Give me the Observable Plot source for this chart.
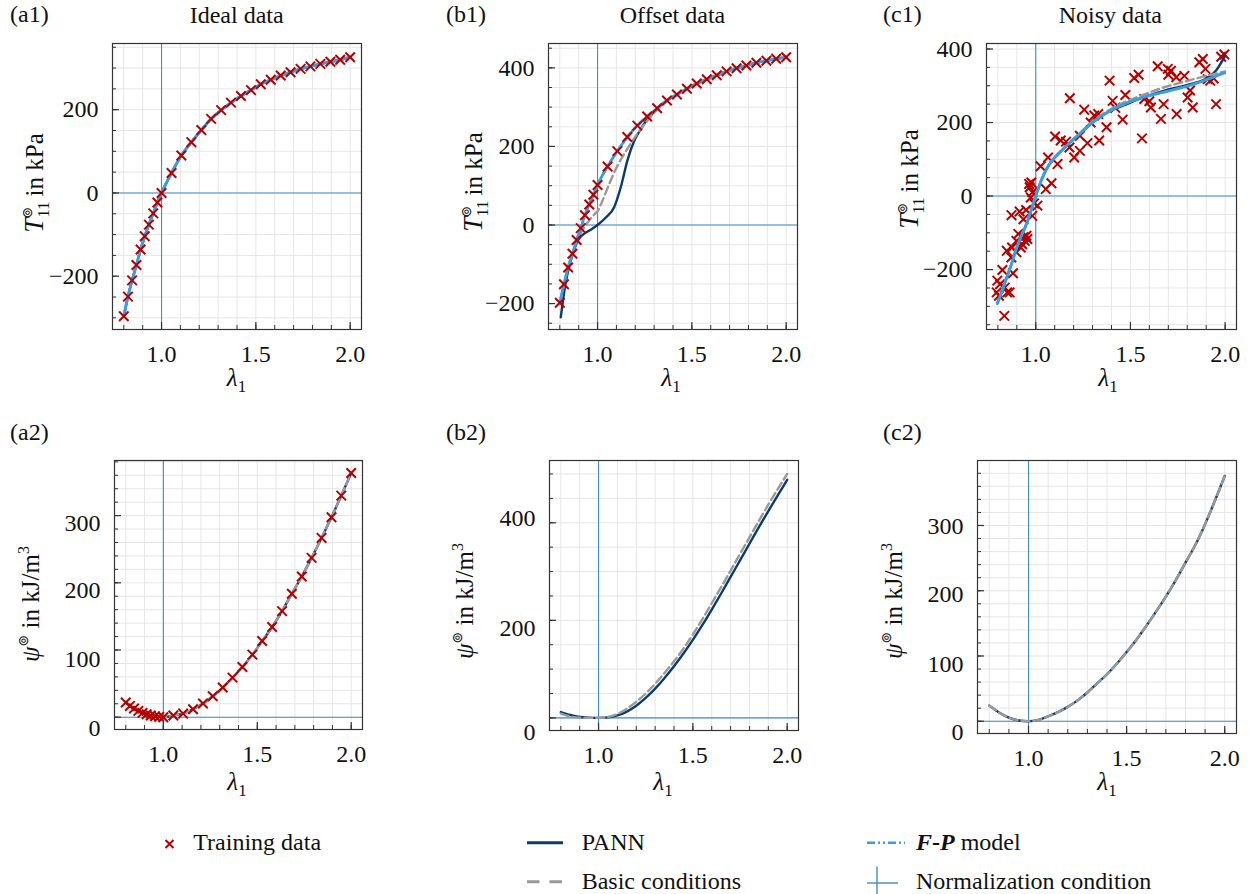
<!DOCTYPE html>
<html><head><meta charset="utf-8">
<script src="https://cdn.jsdelivr.net/npm/d3@7"></script>
<script src="https://cdn.jsdelivr.net/npm/@observablehq/plot@0.6"></script>
<style>
html,body{margin:0;padding:0;background:#fff;}
#root{position:relative;width:1253px;height:894px;overflow:hidden;font-family:'Liberation Serif', serif;}
</style></head><body><div id="root"></div>
<script>
// ---------------- data ----------------
const xMajor = [1.0, 1.5, 2.0];
const xMinor = [0.8, 0.9, 1.0, 1.1, 1.2, 1.3, 1.4, 1.5, 1.6, 1.7, 1.8, 1.9, 2.0];
const normX = [1.0];
const normY = [0];

// training stretches (ideal / offset data)
const lamTrain = [0.8, 0.822, 0.844, 0.867, 0.889, 0.911, 0.933, 0.956, 0.978, 1.0, 1.053, 1.105, 1.158, 1.211, 1.263, 1.316, 1.368, 1.421, 1.474, 1.526, 1.579, 1.632, 1.684, 1.737, 1.789, 1.842, 1.895, 1.947, 2.0];
// (a1) ideal stress data
const tIdeal = [-296, -249, -210, -173, -136, -104, -76, -49, -23, 0, 48, 90, 122, 151, 178, 199, 217, 233, 247, 261, 272, 282, 290, 298, 304, 310, 315, 320, 326];
// (b1) offset stress data
const tOffset = [-198, -151, -108, -73, -38, -8, 25, 52, 77, 102, 149, 188, 224, 253, 276, 297, 317, 332, 347, 360, 371, 381, 391, 399, 406, 413, 418, 423, 427];
// (a2) ideal energy data
const psiIdeal = [21.8, 16.8, 12.9, 9.4, 6.4, 4.5, 2.5, 1.5, 0.5, 0, 2.5, 5.4, 11.9, 20.3, 31.2, 44.1, 58.9, 74.8, 93.1, 113.4, 134.2, 157.9, 183.7, 209.4, 237.1, 266.8, 297.5, 329.7, 363.4];

// (b1) model curves
const lamB1Pann = [0.805, 0.83, 0.85, 0.87, 0.89, 0.91, 0.93, 0.95, 0.97, 1.0, 1.044, 1.088, 1.123, 1.158, 1.194, 1.229, 1.264, 1.30, 1.368, 1.421, 1.474, 1.526, 1.579, 1.632, 1.684, 1.737, 1.789, 1.842, 1.895, 1.947, 2.0];
const tB1Pann = [-235, -150, -105, -72, -45, -30, -22, -16, -10, 0, 19, 45, 96, 164, 214, 244, 269, 288, 317, 332, 347, 360, 371, 381, 391, 399, 406, 413, 418, 423, 427];
const lamB1Basic = [0.8, 0.822, 0.844, 0.867, 0.889, 0.91, 0.93, 0.95, 0.97, 0.985, 1.0, 1.02, 1.05, 1.08, 1.11, 1.14, 1.17, 1.21, 1.25, 1.29, 1.32, 1.368, 1.421, 1.474, 1.526, 1.579, 1.632, 1.684, 1.737, 1.789, 1.842, 1.895, 1.947, 2.0];
const tB1Basic = [-200, -151, -108, -73, -42, -22, -5, 8, 20, 28, 35, 55, 90, 125, 155, 180, 203, 232, 257, 280, 296, 317, 332, 347, 360, 371, 381, 391, 399, 406, 413, 418, 423, 427];

// (c1) noisy stress data
const lamNoisy = [0.834, 0.797, 0.806, 0.794, 0.824, 0.836, 0.849, 0.862, 0.880, 0.812, 0.847, 0.871, 0.875, 0.898, 0.898, 0.908, 0.921, 0.929, 0.942, 0.951, 0.956, 0.935, 0.872, 0.915, 0.949, 0.935, 0.982, 0.968, 0.977, 0.982, 0.991, 1.009, 0.974, 0.965, 1.026, 1.053, 1.083, 1.065, 1.102, 1.115, 1.132, 1.180, 1.178, 1.203, 1.233, 1.233, 1.256, 1.273, 1.309, 1.330, 1.335, 1.374, 1.390, 1.406, 1.459, 1.473, 1.520, 1.543, 1.561, 1.573, 1.600, 1.608, 1.644, 1.661, 1.675, 1.697, 1.714, 1.742, 1.744, 1.785, 1.802, 1.815, 1.829, 1.864, 1.882, 1.908, 1.921, 1.952, 1.979, 1.996, 1.896, 1.160, 1.290, 1.420, 1.940, 1.700];
const tNoisy = [-326, -230, -271, -262, -201, -249, -262, -262, -210, -240, -149, -167, -140, -153, -122, -103, -140, -131, -122, -108, -117, -112, -52, -42, -38, -63, -54, 24, 37, 10, -20, -26, -4, 33, 81, 19, 35, 105, 162, 87, 151, 266, 132, 105, 123, 164, 235, 144, 219, 223, 151, 187, 314, 259, 208, 275, 321, 330, 157, 264, 258, 241, 353, 210, 250, 346, 341, 323, 223, 327, 268, 287, 241, 364, 373, 318, 314, 250, 379, 385, 346, 148, 200, 240, 320, 330];

// (c1) model curves
const lamC1 = [0.797, 0.82, 0.841, 0.87, 0.894, 0.92, 0.947, 0.975, 1.0, 1.02, 1.044, 1.07, 1.106, 1.141, 1.18, 1.238, 1.3, 1.38, 1.467, 1.55, 1.679, 1.82, 1.908, 1.95, 2.0];
const tC1FP = [-292, -262, -230, -188, -149, -113, -81, -40, 0, 30, 60, 85, 108, 126, 145, 172, 200, 228, 250, 266, 283, 302, 318, 326, 336];
const tC1Pann = [-292, -262, -230, -188, -149, -113, -81, -40, 0, 30, 60, 85, 108, 126, 145, 172, 200, 228, 247, 265, 287, 305, 322, 340, 382];
const tC1Basic = [-292, -262, -230, -188, -149, -113, -81, -40, 0, 30, 60, 85, 108, 126, 146, 174, 203, 232, 255, 272, 296, 316, 328, 333, 339];

// (b2), (c2) energy curves
const lamPsi = [0.8, 0.85, 0.9, 0.95, 1.0, 1.05, 1.1, 1.15, 1.2, 1.25, 1.3, 1.35, 1.4, 1.45, 1.5, 1.55, 1.6, 1.65, 1.7, 1.75, 1.8, 1.85, 1.9, 1.95, 2.0];
const psiB2Pann = [12, 6, 2, 0.5, 0, 1, 5, 13, 25, 41, 60, 82, 106, 132, 160, 190, 222, 255, 289, 323, 357, 391, 424, 456, 488];
const psiB2Basic = [9, 3, 0.5, 0, 0, 2, 8, 19, 33, 50, 70, 92, 116, 142, 171, 202, 235, 268, 302, 336, 370, 404, 437, 469, 500];
const psiC2Pann = [24, 13.5, 5.5, 1.2, 0, 2, 7.5, 14, 22, 32, 44, 58, 72, 88, 106, 125, 146, 168, 191, 216, 243, 270, 302, 338, 376];
const psiC2Basic = [24, 13.5, 5.5, 1.2, 0, 2, 7.5, 14, 22, 32, 44, 58, 72, 88, 106, 125, 146, 168, 191, 216, 243, 270, 302, 338, 376];

// ---------------- styles ----------------
const NAVY = "#0b3a6f", GRAY = "#9a9a9a", LBLUE = "#3a9fe0", NORM = "#3f8ad0", RED = "#b50000";
const FONT = "'Liberation Serif', serif";
const fmtY = d3.format("d");
const fmtX = d3.format(".1f");
const zip = (xs, ys) => xs.map((x, i) => [x, ys[i]]);
const range = (a, b, s) => { const out = []; for (let v = a; v <= b + 1e-9; v += s) out.push(+v.toFixed(6)); return out; };

const root = document.getElementById("root");

function panel({L, R, T, B, yDomain, yMajor, yMinorStep, shifts, marks}) {
  const mL = 80, mR = 12, mT = 12, mB = 50;
  const l = Math.round(L), r = Math.round(R), t0 = Math.round(T), b = Math.round(B);
  const W = r - l, H = b - t0;
  const yMinor = range(Math.ceil(yDomain[0] / yMinorStep) * yMinorStep, yDomain[1], yMinorStep).map(v => v + 0);
  const svg = Plot.plot({
    width: W + mL + mR, height: H + mT + mB,
    marginLeft: mL, marginRight: mR, marginTop: mT, marginBottom: mB,
    x: {domain: [0.74, 2.06], axis: null},
    y: {domain: yDomain, axis: null},
    style: {fontFamily: FONT, fontSize: "24px", color: "#111", background: "transparent", overflow: "visible"},
    marks: [
      Plot.gridX(xMinor, {stroke: "#e6e6e6", strokeOpacity: 1, strokeWidth: 1}),
      Plot.gridY(yMinor, {stroke: "#e6e6e6", strokeOpacity: 1, strokeWidth: 1}),
      Plot.ruleX(normX, {stroke: NORM, strokeWidth: 1.1}),
      Plot.ruleY(normY, {stroke: NORM, strokeWidth: 1.1}),
      ...marks,
      Plot.ruleX(xMinor, {insetTop: H - 4, stroke: "#333", strokeWidth: 1}),
      Plot.ruleX(xMajor, {insetTop: H - 7, stroke: "#333", strokeWidth: 1.2}),
      Plot.ruleY(yMinor, {insetRight: W - 4, stroke: "#333", strokeWidth: 1}),
      Plot.ruleY(yMajor, {insetRight: W - 7, stroke: "#333", strokeWidth: 1.2}),
      Plot.frame({stroke: "#333", strokeWidth: 1.2}),
      Plot.axisX(xMajor, {tickSize: 0, tickPadding: 15, fontSize: 24, fontFamily: "Liberation Serif", label: null, tickFormat: fmtX}),
      ...yMajor.map(t => Plot.axisY([t], {tickSize: 0, tickPadding: 14, fontSize: 24, fontFamily: "Liberation Serif", label: null, tickFormat: fmtY, dy: (shifts && shifts[t]) || 0}))
    ]
  });
  svg.style.position = "absolute";
  svg.style.left = (l - mL) + "px";
  svg.style.top = (t0 - mT) + "px";
  svg.querySelectorAll("text").forEach(el => { el.style.fontFamily = FONT; });
  root.appendChild(svg);
}

const pann = (d) => Plot.line(d, {stroke: NAVY, strokeWidth: 2.4, curve: "monotone-x"});
const basic = (d) => Plot.line(d, {stroke: GRAY, strokeWidth: 2.4, strokeDasharray: "8,4", curve: "monotone-x"});
const fp = (d) => Plot.line(d, {stroke: LBLUE, strokeWidth: 3, strokeDasharray: "6,2,1.5,2,1.5,2", curve: "monotone-x"});
const train = (d) => Plot.dot(d, {symbol: "times", r: 4.4, stroke: RED, strokeWidth: 2});

// (a1)
panel({L: 112.3, R: 361, T: 42.7, B: 329, yDomain: [-328, 359], yMajor: [-200, 0, 200], yMinorStep: 50,
  marks: [pann(zip(lamTrain, tIdeal)), basic(zip(lamTrain, tIdeal)), fp(zip(lamTrain, tIdeal)), train(zip(lamTrain, tIdeal))]});
// (b1)
panel({L: 547.7, R: 797, T: 42.7, B: 329, yDomain: [-266, 462], yMajor: [-200, 0, 200, 400], yMinorStep: 50,
  marks: [pann(zip(lamB1Pann, tB1Pann)), basic(zip(lamB1Basic, tB1Basic)), fp(zip(lamTrain, tOffset)), train(zip(lamTrain, tOffset))]});
// (c1)
panel({L: 985.7, R: 1235.7, T: 42.7, B: 329, yDomain: [-363, 415], yMajor: [-200, 0, 200, 400], yMinorStep: 50,
  marks: [train(zip(lamNoisy, tNoisy)), pann(zip(lamC1, tC1Pann)), basic(zip(lamC1, tC1Basic)), fp(zip(lamC1, tC1FP))]});
// (a2)
panel({L: 113.7, R: 362, T: 460, B: 729.3, yDomain: [-18.3, 382], yMajor: [0, 100, 200, 300], yMinorStep: 20,
  shifts: {0: 11, 100: 9, 200: 8, 300: 8},
  marks: [pann(zip(lamTrain, psiIdeal)), basic(zip(lamTrain, psiIdeal)), train(zip(lamTrain, psiIdeal))]});
// (b2)
panel({L: 548.7, R: 797.7, T: 460, B: 730.3, yDomain: [-25.8, 527.6], yMajor: [0, 200, 400], yMinorStep: 50,
  shifts: {0: 14, 200: 8, 400: -4},
  marks: [pann(zip(lamPsi, psiB2Pann)), basic(zip(lamPsi, psiB2Basic))]});
// (c2)
panel({L: 977.3, R: 1235.7, T: 460, B: 733.3, yDomain: [-18.8, 399.6], yMajor: [0, 100, 200, 300], yMinorStep: 20,
  shifts: {0: 11, 100: 8, 200: 4, 300: 1},
  marks: [pann(zip(lamPsi, psiC2Pann)), basic(zip(lamPsi, psiC2Basic))]});

// ---------------- text overlay & legend ----------------
const ov = d3.select(root).append("svg").attr("width", 1253).attr("height", 894)
  .style("position", "absolute").style("left", "0px").style("top", "0px");
const T_ = (sel) => sel.style("font-family", FONT).attr("fill", "#111");
const txt = (x, y, s, anchor = "start") => T_(ov.append("text")).attr("x", x).attr("y", y).attr("font-size", 24).attr("text-anchor", anchor).text(s);

[["(a1)", 10, 21.5], ["(b1)", 446, 21.5], ["(c1)", 883, 21.5], ["(a2)", 10, 440], ["(b2)", 446, 440], ["(c2)", 883, 440]]
  .forEach(([s, x, y]) => txt(x, y, s));
[["Ideal data", 236.7], ["Offset data", 672.5], ["Noisy data", 1110.3]].forEach(([s, x]) => txt(x, 23, s, "middle"));

// x titles
function lamTitle(cx, by) {
  const t = T_(ov.append("text")).attr("x", cx).attr("y", by).attr("text-anchor", "middle").attr("font-size", 25);
  t.append("tspan").attr("font-style", "italic").text("λ");
  t.append("tspan").attr("font-size", 17).attr("dy", 6).text("1");
}
[[236.5, 386], [671, 386], [1108, 386], [237, 790], [663, 790], [1107, 790]].forEach(([x, y]) => lamTitle(x, y));

// y titles (rotated)
function tTitle(bx, cy) {
  const t = T_(ov.append("text")).attr("transform", `translate(${bx},${cy}) rotate(-90)`).attr("text-anchor", "middle").attr("font-size", 25);
  t.append("tspan").attr("font-style", "italic").attr("font-size", 27).text("T");
  t.append("tspan").attr("font-size", 17).attr("dy", 6).text("11");
  t.append("tspan").attr("font-size", 14).style("font-family", "'DejaVu Sans', sans-serif").attr("dx", -17).attr("dy", -17).text("⊚");
  t.append("tspan").attr("dx", 4).attr("dy", 11).text(" in kPa");
}
function psiTitle(bx, cy) {
  const t = T_(ov.append("text")).attr("transform", `translate(${bx},${cy}) rotate(-90)`).attr("text-anchor", "middle").attr("font-size", 25);
  t.append("tspan").attr("font-style", "italic").text("ψ");
  t.append("tspan").attr("font-size", 14).style("font-family", "'DejaVu Sans', sans-serif").attr("dy", -11).text("⊚");
  t.append("tspan").attr("dy", 11).text(" in kJ/m");
  t.append("tspan").attr("font-size", 16).attr("dy", -10).text("3");
}
tTitle(43, 183); tTitle(481.5, 182); tTitle(918, 179);
psiTitle(38.5, 604); psiTitle(473, 601); psiTitle(901.5, 601);

// legend
ov.append("path").attr("d", "M165.5,840L173.5,848M165.5,848L173.5,840").attr("stroke", RED).attr("stroke-width", 2).attr("fill", "none");
txt(193.3, 850, "Training data");
ov.append("line").attr("x1", 527).attr("x2", 563).attr("y1", 842.7).attr("y2", 842.7).attr("stroke", NAVY).attr("stroke-width", 3);
txt(581.7, 850, "PANN");
ov.append("line").attr("x1", 527).attr("x2", 563).attr("y1", 881.7).attr("y2", 881.7).attr("stroke", GRAY).attr("stroke-width", 3).attr("stroke-dasharray", "12.5,10");
txt(581.7, 889, "Basic conditions");
ov.append("line").attr("x1", 867).attr("x2", 905).attr("y1", 842.7).attr("y2", 842.7).attr("stroke", LBLUE).attr("stroke-width", 2.6).attr("stroke-dasharray", "8,3,2,3,2,3");
{
  const t = T_(ov.append("text")).attr("x", 916).attr("y", 850).attr("font-size", 24);
  t.append("tspan").attr("font-weight", "bold").attr("font-style", "italic").text("F");
  t.append("tspan").attr("font-weight", "bold").text("-");
  t.append("tspan").attr("font-weight", "bold").attr("font-style", "italic").text("P");
  t.append("tspan").text(" model");
}
ov.append("line").attr("x1", 867).attr("x2", 898).attr("y1", 883).attr("y2", 883).attr("stroke", NORM).attr("stroke-width", 1.4);
ov.append("line").attr("x1", 877).attr("x2", 877).attr("y1", 866.5).attr("y2", 894).attr("stroke", NORM).attr("stroke-width", 1.4);
txt(916, 889, "Normalization condition");
</script>
</body></html>
